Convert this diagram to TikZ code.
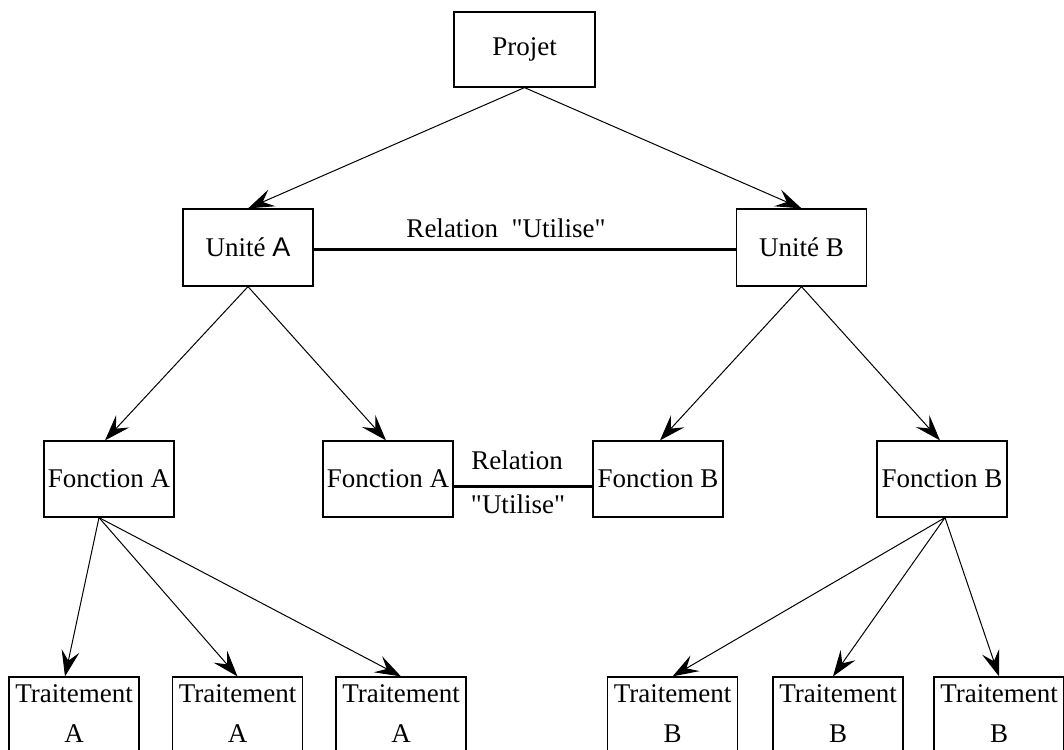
\documentclass[tikz,border=0pt]{standalone}
\usepackage{fontspec}
\setmainfont{Liberation Serif}[Ligatures=TeXOff]
\setsansfont{Liberation Sans}
\usetikzlibrary{arrows.meta}
\tikzset{every picture/.append style={x=1pt, y=-1pt}}
\tikzset{
    every node/.style={rectangle, draw, line width=1.2pt, minimum width=130pt,
    	minimum height=77pt, inner sep=0pt, align=center,
    	font=\fontsize{27}{40}\selectfont}
}
\tikzset{fleche/.style={-{Stealth[length=26pt, width=18pt, inset=10pt]}, line width=1pt}}
\tikzset{lien/.style={line width=3pt}}

\begin{document}
\begin{tikzpicture}
  \useasboundingbox (0,0) rectangle (1064,749);
  \node (projet) [minimum width=141pt, minimum height=75pt] at (524.5, 49.5) {Projet};
  \node (ua) at (248, 247.5) {Unité {\sffamily A}};
  \node (ub) at (801.5, 247.5) {Unité B};
  \node (fa1) [minimum height=76pt] at (109, 479) {Fonction A};
  \node (fa2) [minimum height=76pt] at (388, 479) {Fonction A};
  \node (fb1) [minimum height=76pt] at (658, 479) {Fonction B};
  \node (fb2) [minimum height=76pt] at (942, 479) {Fonction B};
  \node (ta1) [minimum height=74pt] at (74, 714) {Traitement\\A};
  \node (ta2) [minimum height=74pt] at (237.5, 714) {Traitement\\A};
  \node (ta3) [minimum height=74pt] at (401, 714) {Traitement\\A};
  \node (tb1) [minimum height=74pt] at (672.5, 714) {Traitement\\B};
  \node (tb2) [minimum height=74pt] at (838, 714) {Traitement\\B};
  \node (tb3) [minimum height=74pt] at (999, 714) {Traitement\\B};
  \node (rel_u) [draw=none, minimum width=0pt, minimum height=0pt] at (506, 228) {Relation\ \ "Utilise"};
  \node (rel_f) [draw=none, minimum width=0pt, minimum height=0pt] at (517, 460) {Relation};
  \node (uti_f) [draw=none, minimum width=0pt, minimum height=0pt] at (518, 504) {"Utilise"};

  \draw[fleche] (projet.south) -- (ua.north);
  \draw[fleche] (projet.south) -- (ub.north);
  \draw[fleche] (ua.south) -- ([xshift=-4pt]fa1.north);
  \draw[fleche] (ua.south) -- ([xshift=-2pt]fa2.north);
  \draw[fleche] (ub.south) -- ([xshift=2pt]fb1.north);
  \draw[fleche] (ub.south) -- ([xshift=-2pt]fb2.north);
  \draw[fleche] ([xshift=-10pt]fa1.south) -- ([xshift=-9pt]ta1.north);
  \draw[fleche] ([xshift=-10pt]fa1.south) -- (ta2.north);
  \draw[fleche] ([xshift=-10pt]fa1.south) -- (ta3.north);
  \draw[fleche] ([xshift=3pt]fb2.south) -- (tb1.north);
  \draw[fleche] ([xshift=3pt]fb2.south) -- ([xshift=-5pt]tb2.north);
  \draw[fleche] ([xshift=3pt]fb2.south) -- (tb3.north);
  \draw[lien] ([yshift=-1.5pt]ua.east) -- ([yshift=-1.5pt]ub.west);
  \draw[lien] ([yshift=-7pt]fa2.east) -- ([yshift=-7pt]fb1.west);
\end{tikzpicture}
\end{document}
